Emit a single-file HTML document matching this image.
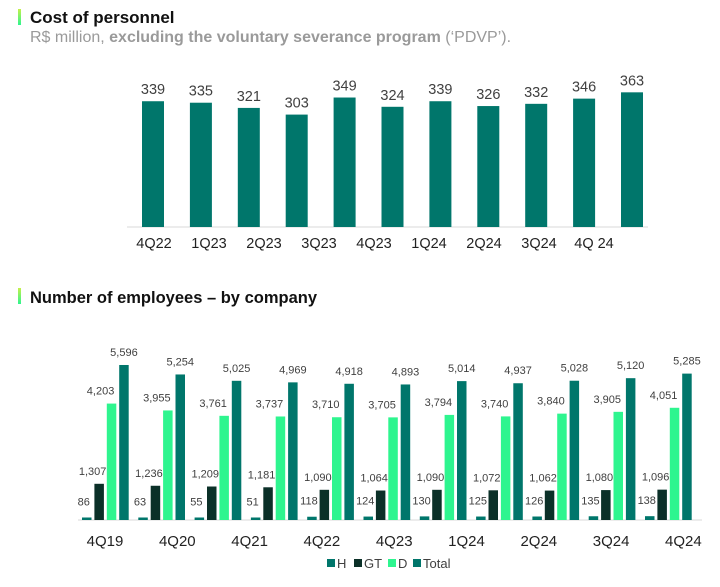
<!DOCTYPE html>
<html><head><meta charset="utf-8"><style>
body{margin:0;background:#fff;width:720px;height:587px;overflow:hidden;font-family:"Liberation Sans",Arial,sans-serif;}
svg{position:absolute;left:0;top:0}
</style></head><body>
<svg id="c" width="720" height="587">
<defs><linearGradient id="g" x1="0" y1="0" x2="0" y2="1"><stop offset="0" stop-color="#c6f04a"/><stop offset="1" stop-color="#2ef58f"/></linearGradient></defs>
<rect x="18" y="9" width="3" height="16" fill="url(#g)"/>
<text x="30" y="23" font-size="17" font-weight="bold" fill="#111">Cost of personnel</text>
<text x="30" y="42" font-size="16" fill="#9a9a9a">R$ million, <tspan font-weight="bold">excluding the voluntary severance program</tspan> (‘PDVP’).</text>
<line x1="127" y1="227" x2="648" y2="227" stroke="#d9d9d9"/>
<rect x="18" y="288" width="3" height="16" fill="url(#g)"/>
<text x="30" y="303" font-size="16.5" font-weight="bold" fill="#111">Number of employees – by company</text>
<line x1="78" y1="520" x2="702" y2="520" stroke="#d9d9d9"/>
<g id="topg"></g><g id="botg"></g>
<g font-size="13" fill="#404040">
<rect x="327" y="559" width="8" height="8" fill="#00766b"/><text x="337" y="568">H</text>
<rect x="354" y="559" width="8" height="8" fill="#0b3028"/><text x="364" y="568">GT</text>
<rect x="388" y="559" width="8" height="8" fill="#2ef58f"/><text x="398" y="568">D</text>
<rect x="413" y="559" width="8" height="8" fill="#00766b"/><text x="423" y="568">Total</text>
</g>
</svg>
<script>
const costLabels=["4Q22","1Q23","2Q23","3Q23","4Q23","1Q24","2Q24","3Q24","4Q 24"];
const costValues=[339,335,321,303,349,324,339,326,332,346,363];
const empCats=["4Q19","4Q20","4Q21","4Q22","4Q23","1Q24","2Q24","3Q24","4Q24"];
const H=[86,63,55,51,118,124,130,125,126,135,138];
const GT=[1307,1236,1209,1181,1090,1064,1090,1072,1062,1080,1096];
const D=[4203,3955,3761,3737,3710,3705,3794,3740,3840,3905,4051];
const TOT=[5596,5254,5025,4969,4918,4893,5014,4937,5028,5120,5285];
const NS="http://www.w3.org/2000/svg";
function mk(t,a,p){const e=document.createElementNS(NS,t);for(const k in a)e.setAttribute(k,a[k]);p.appendChild(e);return e;}
const topG=document.getElementById('topg'),botG=document.getElementById('botg');
const tx=i=>153+i*47.9, ty=v=>227-v*0.371;
const tlx=j=>154+j*55;
costValues.forEach((v,i)=>{
 const r=mk('rect',{x:tx(i)-11,y:ty(v),width:22,height:227-ty(v),fill:'#00766b'},topG);
 
 
 const t=mk('text',{x:tx(i),y:ty(v)-7,'text-anchor':'middle','font-size':14.5,fill:'#404040'},topG);t.textContent=v;
 
 
});
costLabels.forEach((c,j)=>{
 const t=mk('text',{x:tlx(j),y:248,'text-anchor':'middle','font-size':14.5,fill:'#222'},topG);t.textContent=c;
 
 
});
const gx=i=>82+i*56.3, by=v=>520-v*0.0277;
const series=[[H,'#00766b','h'],[GT,'#0b3028','gt'],[D,'#2ef58f','d'],[TOT,'#00766b','total']];
const offs=[-3,-6.5,-11,0];
series.forEach(([arr,col,nm],s)=>{
 arr.forEach((v,i)=>{
  const x=gx(i)+s*12.4;
  const h=Math.max(520-by(v),2.5);
  const r=mk('rect',{x:x,y:520-h,width:9.5,height:h,fill:col},botG);
  
  
  const t=mk('text',{x:x+4.75+offs[s],y:520-h-(s===0?12:9),'text-anchor':'middle','font-size':11,fill:'#404040'},botG);t.textContent=v.toLocaleString('en-US');
  
  
 });
});
const blx=j=>105+j*72.3;
empCats.forEach((c,j)=>{
 const t=mk('text',{x:blx(j),y:546,'text-anchor':'middle','font-size':15,fill:'#222'},botG);t.textContent=c;
 
 
});
</script>
</body></html>
